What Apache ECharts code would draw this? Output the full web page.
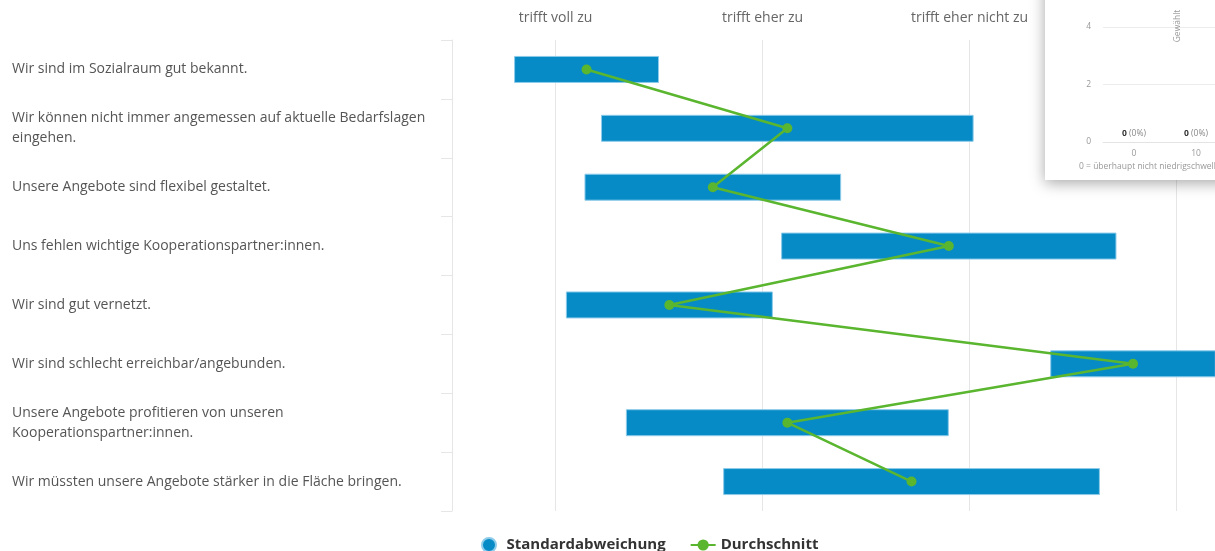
<!DOCTYPE html>
<html>
<head>
<meta charset="utf-8">
<script src="https://cdn.jsdelivr.net/npm/echarts@6/dist/echarts.min.js"></script>
<style>
  html, body { margin: 0; padding: 0; background: #fff; }
  #chart { width: 1215px; height: 551px; }
</style>
</head>
<body>
<div id="chart"></div>
<script>
// Statements rated on a 1–4 agreement scale
const statements = [
  'Wir sind im Sozialraum gut bekannt.',
  'Wir können nicht immer angemessen auf aktuelle Bedarfslagen eingehen.',
  'Unsere Angebote sind flexibel gestaltet.',
  'Uns fehlen wichtige Kooperationspartner:innen.',
  'Wir sind gut vernetzt.',
  'Wir sind schlecht erreichbar/angebunden.',
  'Unsere Angebote profitieren von unseren Kooperationspartner:innen.',
  'Wir müssten unsere Angebote stärker in die Fläche bringen.'
];
const means = [1.15, 2.12, 1.76, 2.90, 1.55, 3.79, 2.12, 2.72];
const stdDevs = [0.35, 0.90, 0.62, 0.81, 0.50, 0.40, 0.78, 0.91];
const scaleLabels = ['trifft voll zu', 'trifft eher zu', 'trifft eher nicht zu', 'trifft gar nicht zu'];

// Small inset chart (Gewählt per score)
const insetCats = ['0', '10', '20'];
const insetCounts = [0, 0, 0];
const insetShares = ['0%', '0%', '0%'];
const insetTicks = [0, 2, 4];

const FONT = '"Open Sans", "Noto Sans", sans-serif';

// floating bar: invisible offset up to mean - sd, then the visible 2*sd span
const lows = means.map((m, i) => +(m - stdDevs[i]).toFixed(3));
const spans = stdDevs.map(s => +(2 * s).toFixed(3));

const chart = echarts.init(document.getElementById('chart'), null, { renderer: 'canvas' });

chart.setOption({
  animation: false,
  textStyle: { fontFamily: FONT },
  grid: [
    // plot area runs past the right edge of the canvas
    { left: 452, width: 828, top: 40, height: 471, outerBoundsMode: 'none', containLabel: false },
    { left: 1103, width: 186, top: 27, height: 115, outerBoundsMode: 'none', containLabel: false }
  ],
  legend: {
    data: [
      { name: 'Standardabweichung', icon: 'circle' },
      { name: 'Durchschnitt' }
    ],
    left: 476,
    top: 532,
    itemWidth: 25,
    itemHeight: 14,
    itemGap: 24,
    textStyle: { fontFamily: FONT, fontSize: 15, fontWeight: 'bold', color: '#333' }
  },
  xAxis: [
    {
      gridIndex: 0,
      type: 'value',
      position: 'top',
      min: 0.5,
      max: 4.5,
      splitNumber: 4,
      axisLine: { show: false },
      axisTick: { show: false },
      axisLabel: {
        margin: 15,
        fontSize: 14,
        color: '#666',
        fontFamily: FONT,
        showMinLabel: false,
        showMaxLabel: false,
        formatter: v => (Number.isInteger(v) && scaleLabels[v - 1]) ? scaleLabels[v - 1] : ''
      },
      splitLine: { show: true, lineStyle: { color: '#e6e6e6', width: 1 } }
    },
    {
      gridIndex: 1,
      type: 'category',
      data: insetCats,
      z: 60,
      axisLine: { show: true, lineStyle: { color: '#e3e3e3' } },
      axisTick: { show: false },
      axisLabel: { margin: 7, fontSize: 8.5, color: '#999', fontFamily: FONT }
    }
  ],
  yAxis: [
    {
      gridIndex: 0,
      type: 'category',
      inverse: true,
      data: statements,
      axisLine: { show: true, lineStyle: { color: '#e6e6e6', width: 1 } },
      axisTick: { show: true, length: 11, lineStyle: { color: '#e6e6e6' } },
      axisLabel: {
        align: 'left',
        margin: 440,
        width: 430,
        overflow: 'break',
        fontSize: 14,
        lineHeight: 20,
        padding: [8, 0, 0, 0],
        color: '#555',
        fontFamily: FONT
      },
      splitLine: { show: false }
    },
    {
      gridIndex: 1,
      type: 'value',
      min: insetTicks[0],
      max: insetTicks[insetTicks.length - 1],
      interval: insetTicks[1] - insetTicks[0],
      z: 60,
      axisLine: { show: false },
      axisTick: { show: false },
      axisLabel: { margin: 12, fontSize: 8.5, color: '#999', fontFamily: FONT },
      splitLine: { show: true, lineStyle: { color: '#ececec' } }
    }
  ],
  series: [
    {
      name: 'offset',
      type: 'bar',
      stack: 'sd',
      xAxisIndex: 0,
      yAxisIndex: 0,
      barWidth: 27,
      silent: true,
      itemStyle: { color: 'rgba(0,0,0,0)' },
      data: lows
    },
    {
      name: 'Standardabweichung',
      type: 'bar',
      stack: 'sd',
      xAxisIndex: 0,
      yAxisIndex: 0,
      barWidth: 27,
      itemStyle: { color: '#078bc6', borderColor: '#8ccbea', borderWidth: 1 },
      data: spans
    },
    {
      name: 'Durchschnitt',
      type: 'line',
      xAxisIndex: 0,
      yAxisIndex: 0,
      z: 5,
      symbol: 'circle',
      symbolSize: 10,
      lineStyle: { color: '#5ab52f', width: 2.5 },
      itemStyle: { color: '#5ab52f' },
      data: means.map((m, i) => [m, statements[i]])
    },
    {
      name: 'Gewählt',
      type: 'bar',
      xAxisIndex: 1,
      yAxisIndex: 1,
      z: 60,
      barWidth: 20,
      itemStyle: { color: '#078bc6' },
      label: {
        show: true,
        position: 'top',
        distance: 4,
        fontFamily: FONT,
        fontSize: 8.5,
        color: '#888',
        formatter: p => '{b|' + p.value + '} (' + insetShares[p.dataIndex] + ')',
        rich: { b: { fontWeight: 'bold', color: '#333', fontSize: 8.5, fontFamily: FONT } }
      },
      data: insetCounts
    }
  ],
  graphic: [
    {
      type: 'rect',
      z: 50,
      silent: true,
      shape: { x: 1045, y: -20, width: 210, height: 200 },
      style: {
        fill: '#fff',
        shadowBlur: 14,
        shadowColor: 'rgba(0,0,0,0.35)',
        shadowOffsetY: 3
      }
    },
    {
      type: 'text',
      z: 61,
      silent: true,
      x: 1178,
      y: 26,
      rotation: Math.PI / 2,
      style: {
        text: 'Gewählt',
        fontFamily: FONT,
        fontSize: 8.5,
        fill: '#999',
        align: 'center',
        verticalAlign: 'middle'
      }
    },
    {
      type: 'text',
      z: 61,
      silent: true,
      x: 1079,
      y: 167,
      style: {
        text: '0 = überhaupt nicht niedrigschwellig',
        fontFamily: FONT,
        fontSize: 8.5,
        fill: '#999',
        align: 'left',
        verticalAlign: 'middle'
      }
    }
  ]
});
</script>
</body>
</html>
